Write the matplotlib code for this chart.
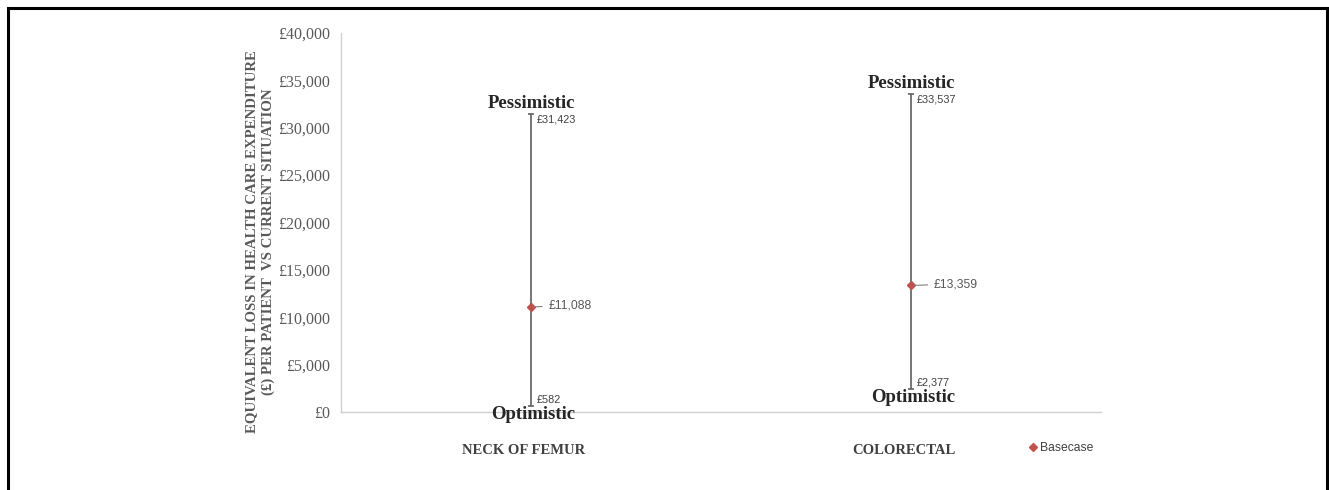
import matplotlib
matplotlib.use("Agg")
import matplotlib.pyplot as plt
from matplotlib.patches import Rectangle
from matplotlib.lines import Line2D
import matplotlib.transforms as mtransforms

categories = ["NECK OF FEMUR", "COLORECTAL"]
optimistic = [582, 2377]
pessimistic = [31423, 33537]
basecase = [11088, 13359]
yticks = [0, 5000, 10000, 15000, 20000, 25000, 30000, 35000, 40000]

W, H = 1329, 490
fig = plt.figure(figsize=(W / 100, H / 100), dpi=100)
ax = fig.add_axes([341 / W, 1 - 412 / H, (1101 - 341) / W, (412 - 33) / H])

serif = "Liberation Serif"
sans = "Liberation Sans"
line_col = "#5f5f5f"
red = "#C0504D"

xs = [0.5, 1.5]
base_label_dx = [12.5, 16.5]
ax.set_xlim(0, 2)
ax.set_ylim(0, 40000)

for x, lo, hi, b, dx in zip(xs, optimistic, pessimistic, basecase, base_label_dx):
    ax.vlines(x, lo, hi, color=line_col, lw=1.2, zorder=2)
    ax.plot([x], [hi], marker="_", ms=5, color=line_col, mew=1.2, zorder=2)
    ax.plot([x], [lo], marker="_", ms=5, color=line_col, mew=1.2, zorder=2)
    ax.plot([x], [b], marker="D", ms=4.5, color=red, zorder=3, linestyle="none")
    ax.annotate(f"£{hi:,}", (x, hi), xytext=(3.8, -3.5), textcoords="offset points",
                ha="left", va="center", fontsize=7.8, family=sans, color="#404040")
    ax.annotate(f"£{lo:,}", (x, lo), xytext=(3.8, 5), textcoords="offset points",
                ha="left", va="center", fontsize=7.8, family=sans, color="#404040")
    ax.annotate(f"£{b:,}", (x, b), xytext=(dx, 1.0), textcoords="offset points",
                ha="left", va="center", fontsize=8.7, family=sans, color="#595959",
                arrowprops=dict(arrowstyle="-", color="#808080", lw=0.8,
                                shrinkA=2.5, shrinkB=2))
    ax.annotate("Pessimistic", (x, hi), xytext=(0, 8), textcoords="offset points",
                ha="center", va="center", fontsize=13.5, family=serif,
                fontweight="bold", color="#262626")
    ax.annotate("Optimistic", (x, lo), xytext=(1.5, -5.5),
                textcoords="offset points", ha="center", va="center", fontsize=13.5,
                family=serif, fontweight="bold", color="#262626")

ax.set_yticks(yticks)
ax.set_yticklabels([f"£{v:,}" for v in yticks], family=serif, fontsize=11.5,
                   color="#595959")
ax.set_xticks(xs)
ax.set_xticklabels(categories, family=serif, fontsize=10.5, fontweight="bold",
                   color="#404040")
ax.tick_params(axis="y", length=0, pad=8)
ax.tick_params(axis="x", length=0, pad=23)
shift = mtransforms.ScaledTranslation(-7 / 100, 0, fig.dpi_scale_trans)
for lab in ax.get_xticklabels():
    lab.set_transform(lab.get_transform() + shift)

for s in ["top", "right"]:
    ax.spines[s].set_visible(False)
for s in ["left", "bottom"]:
    ax.spines[s].set_color("#d0d0d0")
    ax.spines[s].set_linewidth(1.0)

fig.text(260 / W, 1 - 242 / H,
         "EQUIVALENT LOSS IN HEALTH CARE EXPENDITURE\n(£) PER PATIENT  VS CURRENT SITUATION",
         rotation=90, ha="center", va="center", multialignment="center",
         family=serif, fontsize=10.7, fontweight="bold", color="#595959",
         linespacing=1.25)

handle = Line2D([], [], marker="D", color=red, linestyle="none", ms=4.5)
fig.legend([handle], ["Basecase"], loc="center", bbox_to_anchor=(1061 / W, 1 - 448 / H),
           frameon=False, prop={"family": sans, "size": 8.7}, handlelength=0.6,
           handletextpad=0.3, labelcolor="#404040")

fig.add_artist(Rectangle((8 / W, -0.05), (1327 - 8) / W, 1 - 8 / H + 0.05,
                         transform=fig.transFigure, fill=False, edgecolor="black",
                         lw=2.2))

fig.savefig("out.png", dpi=100, facecolor="white")
